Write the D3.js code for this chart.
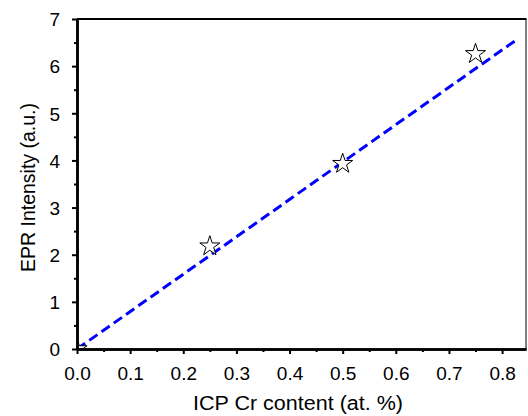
<!DOCTYPE html>
<html><head><meta charset="utf-8">
<script src="https://cdn.jsdelivr.net/npm/d3@7"></script>
<style>body{margin:0;background:#fff}svg{display:block}text{font-family:"Liberation Sans",Arial,sans-serif;fill:#000}</style>
</head><body>
<svg id="c" width="528" height="416"></svg>
<script>
const crContent = [0, 0.25, 0.5, 0.75];
const eprIntensity = [0, 2.18, 3.93, 6.26];
const fitX = [0, 0.826];
const fitY = [0, 6.55];
const xTicks = [0, 0.1, 0.2, 0.3, 0.4, 0.5, 0.6, 0.7, 0.8];
const yTicks = [0, 1, 2, 3, 4, 5, 6, 7];
const xTitle = "ICP Cr content (at. %)";
const yTitle = "EPR Intensity (a.u.)";

const svg = d3.select("#c");
const L = 77, R = 526, T = 19, B = 349;
const x = d3.scaleLinear().domain([0, 0.845]).range([L, R]);
const y = d3.scaleLinear().domain([0, 7]).range([B, T]);

svg.append("clipPath").attr("id", "clip").append("rect")
  .attr("x", L).attr("y", T).attr("width", R - L).attr("height", B - T);

// fit line
svg.append("path")
  .attr("d", d3.line().x(d => x(d[0])).y(d => y(d[1]))(fitX.map((v, i) => [v, fitY[i]])))
  .attr("stroke", "#0000ff").attr("stroke-width", 3).attr("fill", "none")
  .attr("stroke-dasharray", "10,5");

// stars
const star = d3.symbol().type(d3.symbolStar).size(125);
svg.append("g").attr("clip-path", "url(#clip)")
  .selectAll(".pt").data(crContent).enter().append("path")
  .attr("transform", (d, i) => `translate(${x(d)},${y(eprIntensity[i])})`)
  .attr("d", star).attr("fill", "#fff").attr("stroke", "#000").attr("stroke-width", 1);

// frame
svg.append("line").attr("x1", R).attr("x2", R).attr("y1", T).attr("y2", B).attr("stroke", "#000").attr("stroke-width", 1);
svg.append("line").attr("x1", L).attr("x2", R + 0.5).attr("y1", T).attr("y2", T).attr("stroke", "#000").attr("stroke-width", 2);

// axes
const xMinor = d3.range(0.05, 0.85, 0.1);
const yMinor = d3.range(0.5, 7, 1);
const gx = svg.append("g").attr("transform", `translate(0,${B})`)
  .call(d3.axisBottom(x).tickValues(xTicks).tickFormat(d3.format(".1f")).tickSize(5).tickSizeOuter(0));
const gx2 = svg.append("g").attr("transform", `translate(0,${B})`)
  .call(d3.axisBottom(x).tickValues(xMinor).tickFormat("").tickSize(3).tickSizeOuter(0));
const gy = svg.append("g").attr("transform", `translate(${L},0)`)
  .call(d3.axisLeft(y).tickValues(yTicks).tickFormat(d3.format("d")).tickSize(5).tickSizeOuter(0));
const gy2 = svg.append("g").attr("transform", `translate(${L},0)`)
  .call(d3.axisLeft(y).tickValues(yMinor).tickFormat("").tickSize(3).tickSizeOuter(0));
[gx, gx2, gy, gy2].forEach(g => {
  g.select(".domain").attr("stroke", "#000").attr("stroke-width", 2.5);
  g.selectAll(".tick line").attr("stroke", "#000").attr("stroke-width", 2);
});
gx.selectAll(".tick text").attr("font-size", 19).attr("y", 31).attr("dy", 0).style("font-family", "Liberation Sans, Arial");
gy.selectAll(".tick text").attr("font-size", 19).attr("x", -17).attr("dy", "0.36em").style("font-family", "Liberation Sans, Arial");

svg.append("text").attr("x", 298).attr("y", 410).attr("text-anchor", "middle")
  .attr("font-size", 20).attr("textLength", 210).attr("lengthAdjust", "spacingAndGlyphs").text(xTitle);
svg.append("text").attr("transform", `translate(35,187.5) rotate(-90)`).attr("text-anchor", "middle")
  .attr("font-size", 20).attr("textLength", 169).attr("lengthAdjust", "spacingAndGlyphs").text(yTitle);
</script>
</body></html>
